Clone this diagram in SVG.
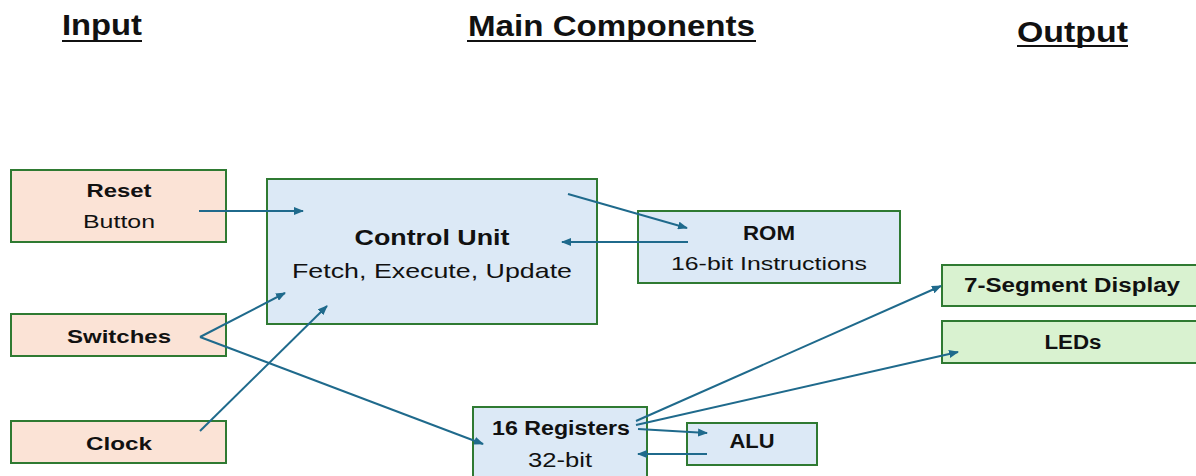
<svg xmlns="http://www.w3.org/2000/svg" width="1196" height="476" viewBox="0 0 1196 476">
  <style>
    .box { stroke: #2f7a32; stroke-width: 2; }
    .in { fill: #fbe3d6; }
    .core { fill: #dce9f6; }
    .out { fill: #d9f2d0; }
    text { font-family: "Liberation Sans", Arial, sans-serif; fill: #111; text-anchor: middle; }
    .b { font-weight: bold; }
    .title { font-weight: bold; font-size: 29px; text-anchor: start; }
    .ul { stroke: #111; stroke-width: 2; }
    .wire { stroke: #1f6a8c; stroke-width: 2; fill: none; marker-end: url(#arrow); }
  </style>
  <defs>
    <marker id="arrow" markerUnits="userSpaceOnUse" markerWidth="10" markerHeight="8" refX="9" refY="4" orient="auto">
      <path d="M0,0 L10,4 L0,8 Z" fill="#1f6a8c"/>
    </marker>
  </defs>

  <rect width="1196" height="476" fill="#ffffff"/>

  <!-- column headings -->
  <g id="headings">
    <text class="title" x="62" y="35" textLength="80" lengthAdjust="spacingAndGlyphs">Input</text>
    <line class="ul" x1="62" y1="41" x2="142" y2="41"/>
    <text class="title" x="468" y="36" textLength="287" lengthAdjust="spacingAndGlyphs">Main Components</text>
    <line class="ul" x1="467" y1="41" x2="756" y2="41"/>
    <text class="title" x="1017" y="42" textLength="111" lengthAdjust="spacingAndGlyphs">Output</text>
    <line class="ul" x1="1017" y1="46" x2="1128" y2="46"/>
  </g>

  <!-- inputs -->
  <g id="reset">
    <rect class="box in" x="11" y="170" width="215" height="72"/>
    <text class="b" x="119" y="197" font-size="19" textLength="65" lengthAdjust="spacingAndGlyphs">Reset</text>
    <text x="119" y="228" font-size="19" textLength="72" lengthAdjust="spacingAndGlyphs">Button</text>
  </g>
  <g id="switches">
    <rect class="box in" x="11" y="314" width="215" height="42"/>
    <text class="b" x="119" y="343" font-size="19" textLength="104" lengthAdjust="spacingAndGlyphs">Switches</text>
  </g>
  <g id="clock">
    <rect class="box in" x="11" y="421" width="215" height="42"/>
    <text class="b" x="119" y="450" font-size="19" textLength="66" lengthAdjust="spacingAndGlyphs">Clock</text>
  </g>

  <!-- main components -->
  <g id="control-unit">
    <rect class="box core" x="267" y="179" width="330" height="145"/>
    <text class="b" x="432" y="245" font-size="22" textLength="155" lengthAdjust="spacingAndGlyphs">Control Unit</text>
    <text x="432" y="278" font-size="21" textLength="280" lengthAdjust="spacingAndGlyphs">Fetch, Execute, Update</text>
  </g>
  <g id="rom">
    <rect class="box core" x="638" y="211" width="262" height="72"/>
    <text class="b" x="769" y="240" font-size="20" textLength="52" lengthAdjust="spacingAndGlyphs">ROM</text>
    <text x="769" y="270" font-size="19" textLength="196" lengthAdjust="spacingAndGlyphs">16-bit Instructions</text>
  </g>
  <g id="registers">
    <rect class="box core" x="473" y="407" width="174" height="72"/>
    <text class="b" x="561" y="435" font-size="20" textLength="138" lengthAdjust="spacingAndGlyphs">16 Registers</text>
    <text x="560" y="467" font-size="20" textLength="64" lengthAdjust="spacingAndGlyphs">32-bit</text>
  </g>
  <g id="alu">
    <rect class="box core" x="687" y="423" width="130" height="42"/>
    <text class="b" x="752" y="448" font-size="20" textLength="45" lengthAdjust="spacingAndGlyphs">ALU</text>
  </g>

  <!-- outputs -->
  <g id="seven-segment">
    <rect class="box out" x="942" y="265" width="262" height="41"/>
    <text class="b" x="1072" y="292" font-size="20" textLength="216" lengthAdjust="spacingAndGlyphs">7-Segment Display</text>
  </g>
  <g id="leds">
    <rect class="box out" x="942" y="321" width="262" height="42"/>
    <text class="b" x="1073" y="349" font-size="20" textLength="57" lengthAdjust="spacingAndGlyphs">LEDs</text>
  </g>

  <!-- connectors, drawn over the boxes -->
  <g id="connectors">
    <line class="wire" x1="199" y1="211" x2="303" y2="211"/>
    <line class="wire" x1="568" y1="194" x2="687" y2="228"/>
    <line class="wire" x1="688" y1="242" x2="562" y2="242"/>
    <line class="wire" x1="200" y1="337" x2="285" y2="293"/>
    <line class="wire" x1="200" y1="337" x2="483" y2="444"/>
    <line class="wire" x1="200" y1="431" x2="327" y2="306"/>
    <line class="wire" x1="636" y1="421" x2="941" y2="286"/>
    <line class="wire" x1="636" y1="425" x2="958" y2="352"/>
    <line class="wire" x1="638" y1="429" x2="707" y2="433"/>
    <line class="wire" x1="707" y1="454" x2="638" y2="454"/>
  </g>
</svg>
